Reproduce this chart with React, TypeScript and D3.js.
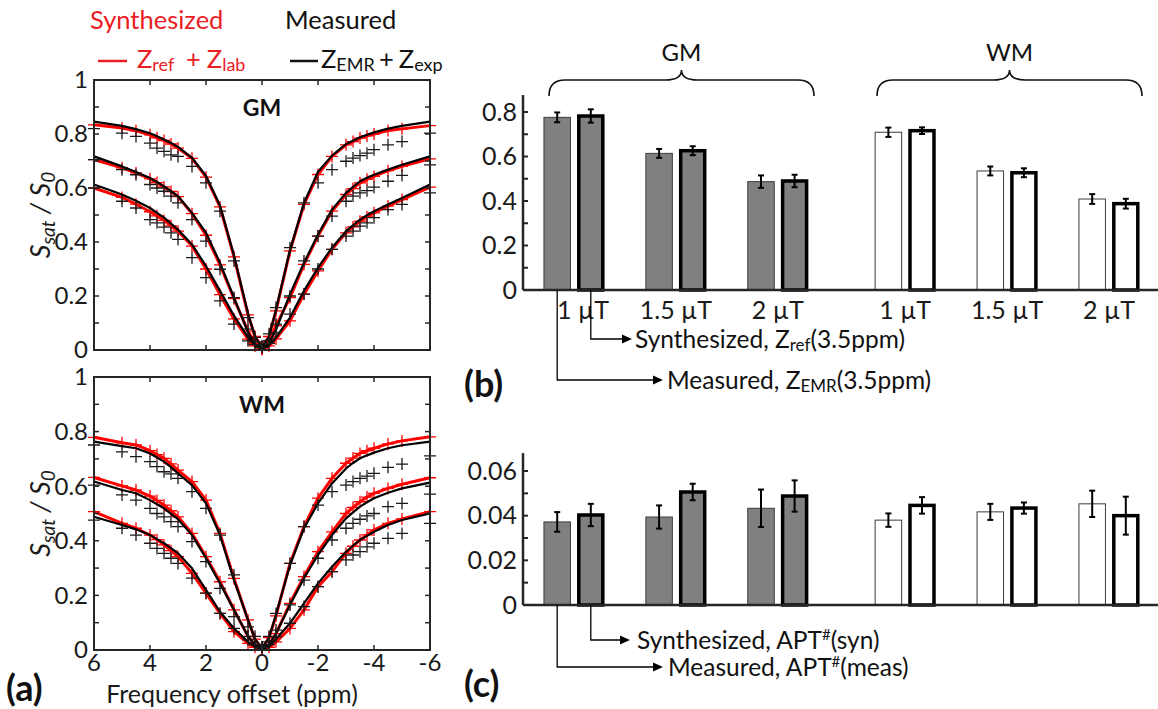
import React from 'react';
import * as d3 from 'd3';

// ---------- Z-spectra (panel a) ----------
const offsets = [6, 5, 4.5, 4, 3.75, 3.5, 3.25, 3, 2.5, 2, 1.5, 1, 0.5, 0.25, 0, -0.25, -0.5, -1, -1.5, -2, -2.5, -3, -3.25, -3.5, -3.75, -4, -4.5, -5, -6];

// GM, 1 / 1.5 / 2 uT
const gmRef1 = [0.834, 0.822, 0.812, 0.797, 0.786, 0.776, 0.763, 0.748, 0.71, 0.64, 0.53, 0.345, 0.13, 0.05, 0.01, 0.05, 0.145, 0.367, 0.539, 0.65, 0.717, 0.76, 0.772, 0.785, 0.793, 0.8, 0.813, 0.819, 0.831];
const gmEmr1 = [0.846, 0.83, 0.818, 0.803, 0.792, 0.78, 0.767, 0.752, 0.712, 0.645, 0.535, 0.35, 0.135, 0.05, 0.008, 0.05, 0.15, 0.37, 0.545, 0.66, 0.72, 0.763, 0.775, 0.788, 0.797, 0.806, 0.82, 0.83, 0.846];
const gmExp1 = [0.82, 0.803, 0.791, 0.766, 0.748, 0.736, 0.723, 0.717, 0.68, 0.619, 0.514, 0.33, 0.12, 0.047, 0.016, 0.06, 0.157, 0.379, 0.545, 0.619, 0.668, 0.699, 0.711, 0.72, 0.729, 0.742, 0.76, 0.772, 0.803];

const gmRef15 = [0.705, 0.675, 0.656, 0.634, 0.62, 0.604, 0.587, 0.568, 0.505, 0.425, 0.315, 0.19, 0.07, 0.025, 0.003, 0.03, 0.09, 0.194, 0.317, 0.422, 0.514, 0.576, 0.598, 0.619, 0.632, 0.643, 0.664, 0.68, 0.708];
const gmEmr15 = [0.717, 0.68, 0.659, 0.637, 0.622, 0.606, 0.588, 0.57, 0.508, 0.434, 0.323, 0.194, 0.065, 0.022, 0.004, 0.025, 0.075, 0.207, 0.323, 0.428, 0.52, 0.582, 0.604, 0.625, 0.638, 0.649, 0.668, 0.686, 0.717];
const gmExp15 = [0.705, 0.668, 0.649, 0.613, 0.6, 0.588, 0.57, 0.545, 0.483, 0.403, 0.299, 0.194, 0.077, 0.03, 0.01, 0.035, 0.096, 0.2, 0.33, 0.422, 0.496, 0.551, 0.57, 0.582, 0.59, 0.603, 0.625, 0.647, 0.686];

const gmRef2 = [0.6, 0.565, 0.54, 0.512, 0.497, 0.48, 0.46, 0.44, 0.385, 0.3, 0.205, 0.115, 0.04, 0.015, 0.003, 0.015, 0.041, 0.108, 0.207, 0.293, 0.373, 0.434, 0.456, 0.477, 0.493, 0.508, 0.533, 0.557, 0.603];
const gmEmr2 = [0.613, 0.576, 0.553, 0.526, 0.508, 0.49, 0.468, 0.446, 0.391, 0.311, 0.219, 0.127, 0.047, 0.018, 0.004, 0.018, 0.047, 0.12, 0.219, 0.305, 0.379, 0.44, 0.462, 0.483, 0.499, 0.514, 0.539, 0.563, 0.613];
const gmExp2 = [0.6, 0.551, 0.526, 0.483, 0.471, 0.455, 0.434, 0.41, 0.342, 0.268, 0.182, 0.096, 0.034, 0.02, 0.01, 0.025, 0.065, 0.133, 0.207, 0.3, 0.373, 0.422, 0.44, 0.459, 0.471, 0.49, 0.52, 0.539, 0.582];

// WM, 1 / 1.5 / 2 uT
const wmRef1 = [0.779, 0.759, 0.751, 0.73, 0.716, 0.702, 0.682, 0.659, 0.617, 0.549, 0.427, 0.262, 0.11, 0.04, 0.005, 0.045, 0.125, 0.317, 0.452, 0.556, 0.629, 0.684, 0.703, 0.72, 0.73, 0.739, 0.755, 0.766, 0.781];
const wmEmr1 = [0.763, 0.747, 0.739, 0.72, 0.705, 0.69, 0.67, 0.647, 0.604, 0.537, 0.421, 0.256, 0.11, 0.04, 0.005, 0.045, 0.13, 0.311, 0.446, 0.537, 0.61, 0.665, 0.685, 0.702, 0.713, 0.723, 0.739, 0.75, 0.763];
const wmExp1 = [0.751, 0.726, 0.708, 0.69, 0.672, 0.653, 0.645, 0.629, 0.58, 0.519, 0.421, 0.275, 0.085, 0.05, 0.012, 0.05, 0.134, 0.317, 0.452, 0.531, 0.58, 0.604, 0.617, 0.629, 0.637, 0.647, 0.669, 0.681, 0.711];

const wmRef15 = [0.632, 0.601, 0.586, 0.564, 0.548, 0.531, 0.51, 0.488, 0.427, 0.342, 0.25, 0.147, 0.05, 0.018, 0.004, 0.02, 0.06, 0.171, 0.269, 0.36, 0.433, 0.5, 0.522, 0.543, 0.56, 0.574, 0.592, 0.607, 0.631];
const wmEmr15 = [0.617, 0.586, 0.574, 0.549, 0.534, 0.519, 0.499, 0.479, 0.421, 0.336, 0.244, 0.147, 0.05, 0.018, 0.004, 0.02, 0.06, 0.165, 0.263, 0.348, 0.421, 0.482, 0.504, 0.525, 0.541, 0.556, 0.576, 0.592, 0.613];
const wmExp15 = [0.604, 0.568, 0.549, 0.519, 0.5, 0.488, 0.47, 0.452, 0.397, 0.324, 0.226, 0.122, 0.037, 0.02, 0.01, 0.03, 0.073, 0.165, 0.256, 0.336, 0.403, 0.446, 0.464, 0.479, 0.491, 0.5, 0.525, 0.537, 0.571];

const wmRef2 = [0.507, 0.464, 0.446, 0.421, 0.404, 0.385, 0.364, 0.342, 0.281, 0.208, 0.134, 0.067, 0.024, 0.01, 0.003, 0.01, 0.03, 0.079, 0.147, 0.232, 0.287, 0.354, 0.38, 0.403, 0.422, 0.44, 0.464, 0.48, 0.507];
const wmEmr2 = [0.488, 0.458, 0.442, 0.421, 0.406, 0.391, 0.373, 0.354, 0.299, 0.22, 0.14, 0.079, 0.03, 0.012, 0.003, 0.012, 0.04, 0.098, 0.171, 0.244, 0.305, 0.36, 0.382, 0.403, 0.418, 0.433, 0.458, 0.476, 0.5];
const wmExp2 = [0.476, 0.446, 0.421, 0.391, 0.372, 0.354, 0.336, 0.317, 0.263, 0.208, 0.134, 0.079, 0.049, 0.02, 0.01, 0.02, 0.049, 0.098, 0.159, 0.232, 0.287, 0.33, 0.348, 0.36, 0.378, 0.391, 0.409, 0.427, 0.464];

const xTicksA = [6, 4, 2, 0, -2, -4, -6];
const yTicksA = [0, 0.2, 0.4, 0.6, 0.8, 1];

// ---------- bar charts (panels b, c) ----------
const tissues = ['GM', 'WM'];
const b1Labels = ['1 µT', '1.5 µT', '2 µT', '1 µT', '1.5 µT', '2 µT'];
const zEmr35 = [0.776, 0.614, 0.487, 0.709, 0.535, 0.409];
const zEmr35Err = [0.022, 0.02, 0.028, 0.021, 0.02, 0.022];
const zRef35 = [0.782, 0.626, 0.49, 0.716, 0.527, 0.388];
const zRef35Err = [0.03, 0.02, 0.028, 0.015, 0.02, 0.022];
const aptMeas = [0.0372, 0.0394, 0.0433, 0.038, 0.0417, 0.0453];
const aptMeasErr = [0.0044, 0.0052, 0.0084, 0.003, 0.0036, 0.0059];
const aptSyn = [0.0403, 0.0506, 0.0488, 0.0446, 0.0434, 0.04];
const aptSynErr = [0.005, 0.0037, 0.007, 0.0037, 0.0025, 0.0085];
const yTicksB = [0, 0.2, 0.4, 0.6, 0.8];
const yTicksC = [0, 0.02, 0.04, 0.06];

const FONT = "Lato, 'Open Sans', sans-serif";
const RED = '#ff0000';
const RED_TEXT = '#ea1c24';
const AXIS = '#262626';
const GM_FILL = '#808080';

type Curve = { ref: number[]; emr: number[]; exp: number[] };
const gmCurves: Curve[] = [
  { ref: gmRef1, emr: gmEmr1, exp: gmExp1 },
  { ref: gmRef15, emr: gmEmr15, exp: gmExp15 },
  { ref: gmRef2, emr: gmEmr2, exp: gmExp2 },
];
const wmCurves: Curve[] = [
  { ref: wmRef1, emr: wmEmr1, exp: wmExp1 },
  { ref: wmRef15, emr: wmEmr15, exp: wmExp15 },
  { ref: wmRef2, emr: wmEmr2, exp: wmExp2 },
];

const xA = d3.scaleLinear().domain([6, -6]).range([94, 430]);

function plusPath(xs: number[], ys: number[], r: number) {
  return xs.map((x, i) => `M${x - r},${ys[i]}H${x + r}M${x},${ys[i] - r}V${ys[i] + r}`).join('');
}

function ZPanel({ title, top, bottom, curves, titleY, showX }: { title: string; top: number; bottom: number; curves: Curve[]; titleY: number; showX: boolean }) {
  const y = d3.scaleLinear().domain([0, 1]).range([bottom, top]);
  const line = d3.line<number>().x((_, i) => xA(offsets[i])).y((d) => y(d));
  const minor = d3.range(0, 11).map((i) => i / 10);
  const xs = offsets.map((o) => xA(o));
  return (
    <g>
      <defs>
        <clipPath id={`clip-${title}`}>
          <rect x={xA(6) - 8} y={top} width={xA(-6) - xA(6) + 16} height={bottom - top + 10} />
        </clipPath>
      </defs>
      <g clipPath={`url(#clip-${title})`}>
        {curves.map((c, k) => (
          <g key={'r' + k}>
            <path d={line(c.ref) || ''} fill="none" stroke={RED} strokeWidth={3} strokeLinejoin="round" />
            <path d={plusPath(xs, c.ref.map((v) => y(v)), 6)} stroke={RED} strokeWidth={1.3} fill="none" />
          </g>
        ))}
        {curves.map((c, k) => (
          <g key={'b' + k}>
            <path d={line(c.emr) || ''} fill="none" stroke="#000" strokeWidth={2.2} strokeLinejoin="round" />
            <path d={plusPath(xs, c.exp.map((v) => y(v)), 6)} stroke="#1a1a1a" strokeWidth={1.3} fill="none" />
          </g>
        ))}
      </g>
      <rect x={xA(6)} y={top} width={xA(-6) - xA(6)} height={bottom - top} fill="none" stroke={AXIS} strokeWidth={2} />
      {minor.map((v) => (
        <g key={v} stroke={AXIS} strokeWidth={1.5}>
          <line x1={xA(6)} x2={xA(6) + 5} y1={y(v)} y2={y(v)} />
          <line x1={xA(-6)} x2={xA(-6) - 5} y1={y(v)} y2={y(v)} />
        </g>
      ))}
      {xTicksA.map((t) => (
        <g key={t} stroke={AXIS} strokeWidth={1.5}>
          <line x1={xA(t)} x2={xA(t)} y1={bottom} y2={bottom - 5} />
          <line x1={xA(t)} x2={xA(t)} y1={top} y2={top + 5} />
        </g>
      ))}
      {yTicksA.map((t) => (
        <text key={t} x={xA(6) - 6} y={y(t)} dy="0.35em" textAnchor="end" fontSize={24} fill="#1a1a1a">
          {String(t)}
        </text>
      ))}
      {showX &&
        xTicksA.map((t) => (
          <text key={t} x={xA(t)} y={bottom + 21} textAnchor="middle" fontSize={24} fill="#1a1a1a">
            {String(t)}
          </text>
        ))}
      <text x={xA(0)} y={titleY} textAnchor="middle" fontSize={23} fontWeight={700} fill="#111">
        {title}
      </text>
      <text transform={`translate(50,${(top + bottom) / 2}) rotate(-90)`} textAnchor="middle" fontSize={27} fontStyle="italic" fill="#1a1a1a">
        S<tspan fontSize={19} dy={5}>sat</tspan>
        <tspan dy={-5}> / S</tspan>
        <tspan fontSize={19} dy={5}>0</tspan>
      </text>
    </g>
  );
}

// bar layout: three B1 levels per tissue, with a wider gap between tissues
const xB = d3.scaleLinear().domain([0, 5.25]).range([574, 1109]);
const groupX = (i: number) => xB(i + (i >= 3 ? 0.25 : 0));
const HALF = 16.8;
const BW = 27.5;

function BarPanel({ y, measVals, measErr, synVals, synErr, ticks, minorTicks, topVal, fmt }: any) {
  const y0 = y(0);
  return (
    <g>
      {measVals.map((v: number, i: number) => {
        const cx = groupX(i) - HALF;
        const fill = i < 3 ? GM_FILL : '#fff';
        return (
          <rect key={'m' + i} x={cx - BW / 2 + 0.5} y={y(v)} width={BW - 1} height={y0 - y(v)} fill={fill} stroke="#3c3c3c" strokeWidth={1} />
        );
      })}
      {synVals.map((v: number, i: number) => {
        const cx = groupX(i) + HALF;
        const fill = i < 3 ? GM_FILL : '#fff';
        return (
          <rect key={'s' + i} x={cx - BW / 2 + 1.75} y={y(v)} width={BW - 3.5} height={y0 - y(v)} fill={fill} stroke="#000" strokeWidth={3.5} />
        );
      })}
      {[...measVals.map((v: number, i: number) => [groupX(i) - HALF, v, measErr[i]]), ...synVals.map((v: number, i: number) => [groupX(i) + HALF, v, synErr[i]])].map(
        ([cx, v, e]: number[], k: number) => (
          <g key={'e' + k} stroke="#000" strokeWidth={2}>
            <line x1={cx} x2={cx} y1={y(v - e)} y2={y(v + e)} />
            <line x1={cx - 3} x2={cx + 3} y1={y(v - e)} y2={y(v - e)} />
            <line x1={cx - 3} x2={cx + 3} y1={y(v + e)} y2={y(v + e)} />
          </g>
        )
      )}
      <line x1={523} x2={1158} y1={y0} y2={y0} stroke={AXIS} strokeWidth={2.5} />
      <line x1={523} x2={523} y1={y0} y2={y(topVal)} stroke={AXIS} strokeWidth={2.5} />
      {minorTicks.map((t: number) => (
        <line key={t} x1={523} x2={528} y1={y(t)} y2={y(t)} stroke={AXIS} strokeWidth={2} />
      ))}
      {ticks.map((t: number) => (
        <text key={t} x={517} y={y(t)} dy="0.35em" textAnchor="end" fontSize={25} fill="#1a1a1a">
          {fmt(t)}
        </text>
      ))}
    </g>
  );
}

function Arrow({ x0, y0, y1, x1 }: { x0: number; y0: number; y1: number; x1: number }) {
  return (
    <g>
      <path d={`M${x0},${y0}V${y1}H${x1 - 8}`} fill="none" stroke="#000" strokeWidth={1.3} />
      <path d={`M${x1},${y1}L${x1 - 10},${y1 - 4.5}L${x1 - 10},${y1 + 4.5}Z`} fill="#000" />
    </g>
  );
}

function Brace({ x0, x1, label }: { x0: number; x1: number; label: string }) {
  const m = (x0 + x1) / 2;
  const d = `M${x0},96Q${x0},80 ${x0 + 16},80L${m - 16},80Q${m},80 ${m},70Q${m},80 ${m + 16},80L${x1 - 16},80Q${x1},80 ${x1},96`;
  return (
    <g>
      <path d={d} fill="none" stroke="#111" strokeWidth={1.6} />
      <text x={m} y={61} textAnchor="middle" fontSize={24} fill="#111">
        {label}
      </text>
    </g>
  );
}

export default function App() {
  const yB = d3.scaleLinear().domain([0, 0.8]).range([290, 112]);
  const yC = d3.scaleLinear().domain([0, 0.06]).range([605, 471]);
  const fmtB = (t: number) => String(t);
  const fmtC = (t: number) => (t === 0 ? '0' : t.toFixed(2));
  return (
    <svg width={1158} height={709} viewBox="0 0 1158 709" style={{ position: 'absolute', left: 0, top: 0 }} fontFamily={FONT}>
      <rect width={1158} height={709} fill="#fff" />

      {/* legend */}
      <text x={90} y={29} fontSize={25.5} fill={RED_TEXT}>Synthesized</text>
      <text x={285} y={29} fontSize={25.5} fill="#111">Measured</text>
      <line x1={98} x2={127} y1={61} y2={61} stroke={RED_TEXT} strokeWidth={2.5} />
      <text x={137} y={68} fontSize={25.5} fill={RED_TEXT}>
        Z<tspan fontSize={18} dy={3}>ref</tspan>
      </text>
      <text x={186} y={68} fontSize={25.5} fill={RED_TEXT}>
        +
        <tspan dx={6}>Z</tspan>
        <tspan fontSize={18} dy={3}>lab</tspan>
      </text>
      <line x1={290} x2={318} y1={61} y2={61} stroke="#111" strokeWidth={2.5} />
      <text x={321} y={68} fontSize={25.5} fill="#111">
        Z<tspan fontSize={18} dy={3}>EMR</tspan>
      </text>
      <text x={379} y={68} fontSize={25.5} fill="#111">
        +
        <tspan dx={5}>Z</tspan>
        <tspan fontSize={18} dy={3}>exp</tspan>
      </text>

      <ZPanel title="GM" top={80} bottom={350} curves={gmCurves} titleY={116} showX={false} />
      <ZPanel title="WM" top={377} bottom={650} curves={wmCurves} titleY={413} showX />
      <text x={232} y={703} textAnchor="middle" fontSize={25} fill="#1a1a1a">Frequency offset (ppm)</text>
      <text x={6} y={701} fontSize={36} fontWeight={700} fill="#111">(a)</text>

      {/* panel b */}
      <Brace x0={549} x1={814} label={tissues[0]} />
      <Brace x0={877} x1={1142} label={tissues[1]} />
      <BarPanel y={yB} measVals={zEmr35} measErr={zEmr35Err} synVals={zRef35} synErr={zRef35Err} ticks={yTicksB} minorTicks={d3.range(1, 9).map((i) => i / 10)} topVal={0.876} fmt={fmtB} />
      {b1Labels.map((l, i) => (
        <text key={i} x={groupX(i) + (i === 0 ? 9 : 0)} y={319} textAnchor="middle" fontSize={25} fill="#1a1a1a">
          {l}
        </text>
      ))}
      <Arrow x0={groupX(0) + HALF} y0={yB(0)} y1={339} x1={632} />
      <text x={635} y={348} fontSize={24.5} fill="#111">
        Synthesized, Z<tspan fontSize={17} dy={3}>ref</tspan>
        <tspan dy={-3}>(3.5ppm)</tspan>
      </text>
      <Arrow x0={groupX(0) - HALF} y0={yB(0)} y1={380} x1={663} />
      <text x={667} y={389} fontSize={24.5} fill="#111">
        Measured, Z<tspan fontSize={17} dy={3}>EMR</tspan>
        <tspan dy={-3}>(3.5ppm)</tspan>
      </text>
      <text x={464} y={397} fontSize={36} fontWeight={700} fill="#111">(b)</text>

      {/* panel c */}
      <BarPanel y={yC} measVals={aptMeas} measErr={aptMeasErr} synVals={aptSyn} synErr={aptSynErr} ticks={yTicksC} minorTicks={[0.01, 0.02, 0.03, 0.04, 0.05, 0.06]} topVal={0.068} fmt={fmtC} />
      <Arrow x0={groupX(0) + HALF} y0={yC(0)} y1={640} x1={630} />
      <text x={637} y={649} fontSize={24.5} fill="#111">
        Synthesized, APT<tspan fontSize={15} dy={-9}>#</tspan>
        <tspan dy={9}>(syn)</tspan>
      </text>
      <Arrow x0={groupX(0) - HALF} y0={yC(0)} y1={667} x1={663} />
      <text x={668} y={676} fontSize={24.5} fill="#111">
        Measured, APT<tspan fontSize={15} dy={-9}>#</tspan>
        <tspan dy={9}>(meas)</tspan>
      </text>
      <text x={464} y={697} fontSize={36} fontWeight={700} fill="#111">(c)</text>
    </svg>
  );
}
